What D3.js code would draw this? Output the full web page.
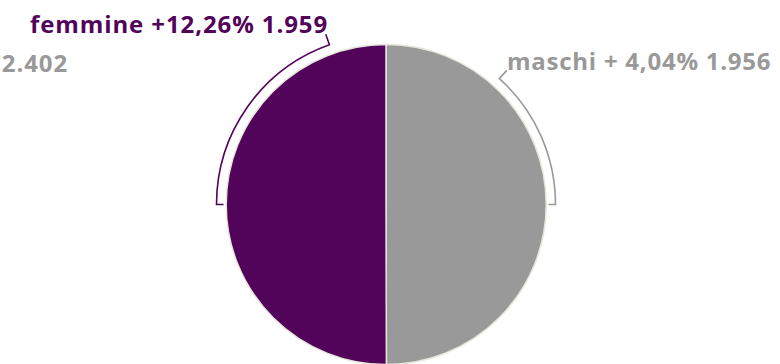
<!DOCTYPE html>
<html>
<head>
<meta charset="utf-8">
<script src="https://cdn.jsdelivr.net/npm/d3@7"></script>
<style>
  body { margin: 0; background: #fff; }
  svg { display: block; font-family: "Open Sans", Lato, sans-serif; }
</style>
</head>
<body>
<svg width="780" height="364"></svg>
<script>
// data
const categories = ["maschi", "femmine"];
const values = [1956, 1959];
const variations = ["+ 4,04%", "+12,26%"];
const valueLabels = ["1.956", "1.959"];
const colors = ["#999999", "#52035a"];
const otherLabel = "2.402";

const svg = d3.select("svg");
const cx = 386, cy = 204.5, r = 160;

const pie = d3.pie().sort(null).value(d => d.value);
const rows = categories.map((c, i) => ({ name: c, value: values[i], color: colors[i] }));
const arcs = pie(rows);

const g = svg.append("g").attr("transform", `translate(${cx},${cy})`);

const arc = d3.arc().innerRadius(0).outerRadius(r);
g.selectAll("path.slice")
  .data(arcs)
  .enter()
  .append("path")
    .attr("class", "slice")
    .attr("d", arc)
    .attr("fill", d => d.data.color)
    .attr("stroke", "#e6e6dc")
    .attr("stroke-width", 1.5);

// brackets round the pie (angle in degrees, 0 = top, clockwise)
const bracketR = 169.5;
const brackets = [
  { a0: 42, a1: 90, color: colors[0] },    // maschi
  { a0: -90, a1: -19.5, color: colors[1] } // femmine
];
const rad = a => a * Math.PI / 180;
const pt = (a, rr) => [rr * Math.sin(rad(a)), -rr * Math.cos(rad(a))];

brackets.forEach(b => {
  // the end at 90 / -90 gets a short tick inward, the other end a leader outward
  const flat = Math.abs(b.a0) === 90 ? b.a0 : b.a1;
  const lead = flat === b.a0 ? b.a1 : b.a0;
  const p = d3.path();
  const s = pt(flat, bracketR - 7);
  p.moveTo(s[0], s[1]);
  const f = pt(flat, bracketR);
  p.lineTo(f[0], f[1]);
  p.arc(0, 0, bracketR, rad(flat) - Math.PI / 2, rad(lead) - Math.PI / 2, lead < flat);
  const e = pt(lead, bracketR + 11);
  p.lineTo(e[0], e[1]);
  g.append("path")
    .attr("d", p.toString())
    .attr("fill", "none")
    .attr("stroke", b.color)
    .attr("stroke-width", 1.6);
});

// labels
svg.append("text")
  .attr("x", 30).attr("y", 33)
  .attr("fill", colors[1])
  .attr("font-weight", 700)
  .attr("font-size", 24)
  .attr("letter-spacing", 0.9)
  .text(`${categories[1]} ${variations[1]} ${valueLabels[1]}`);

svg.append("text")
  .attr("x", 507).attr("y", 70)
  .attr("fill", colors[0])
  .attr("font-weight", 700)
  .attr("font-size", 24)
  .attr("letter-spacing", 0.75)
  .text(`${categories[0]} ${variations[0]} ${valueLabels[0]}`);

svg.append("text")
  .attr("x", 68).attr("y", 72)
  .attr("text-anchor", "end")
  .attr("fill", colors[0])
  .attr("font-weight", 700)
  .attr("font-size", 24)
  .attr("letter-spacing", 0.9)
  .text(otherLabel);
</script>
</body>
</html>
